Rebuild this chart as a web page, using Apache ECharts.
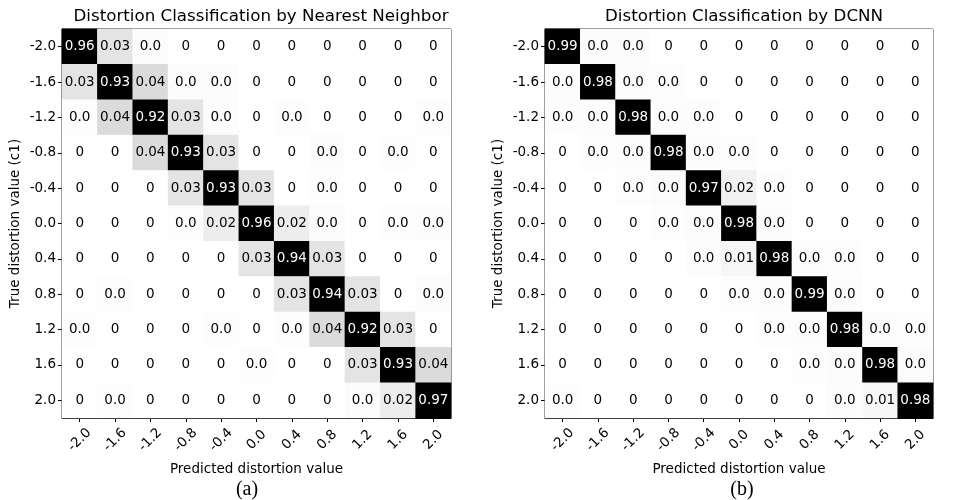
<!DOCTYPE html>
<html lang="en">
  <head>
    <meta charset="utf-8" />
    <title>Distortion Classification</title>
    <style>
      html, body { margin: 0; padding: 0; background: #fff; }
      #chart-container { width: 960px; height: 500px; }
    </style>
  </head>
  <body>
    <div id="chart-container"></div>
    <script src="https://cdn.jsdelivr.net/npm/echarts@6/dist/echarts.min.js"></script>
    <script>
      // tick labels (same for true and predicted axes)
      var distortion = ["-2.0", "-1.6", "-1.2", "-0.8", "-0.4", "0.0", "0.4", "0.8", "1.2", "1.6", "2.0"];

      // rows = true value, columns = predicted value
      // cells printed "0.0" are small non-zero values, estimated from their shade
      var nearestNeighbor = [
        [0.96, 0.03, 0.004, 0, 0, 0, 0, 0, 0, 0, 0],
        [0.03, 0.93, 0.04, 0.003, 0.003, 0, 0, 0, 0, 0, 0],
        [0.002, 0.04, 0.92, 0.03, 0.003, 0, 0.002, 0, 0, 0, 0.002],
        [0, 0, 0.04, 0.93, 0.03, 0, 0, 0.003, 0, 0.002, 0],
        [0, 0, 0, 0.03, 0.93, 0.03, 0, 0.002, 0, 0, 0],
        [0, 0, 0, 0.002, 0.02, 0.96, 0.02, 0.004, 0, 0.002, 0.003],
        [0, 0, 0, 0, 0, 0.03, 0.94, 0.03, 0, 0, 0],
        [0, 0.002, 0, 0, 0, 0, 0.03, 0.94, 0.03, 0, 0.003],
        [0.002, 0, 0, 0, 0.002, 0, 0.002, 0.04, 0.92, 0.03, 0],
        [0, 0, 0, 0, 0, 0.002, 0, 0, 0.03, 0.93, 0.04],
        [0, 0.002, 0, 0, 0, 0, 0, 0, 0.004, 0.02, 0.97]
      ];

      var dcnn = [
        [0.99, 0.003, 0.003, 0, 0, 0, 0, 0, 0, 0, 0],
        [0.003, 0.98, 0.003, 0.002, 0, 0, 0, 0, 0, 0, 0],
        [0.003, 0.003, 0.98, 0.003, 0.002, 0, 0, 0, 0, 0, 0],
        [0, 0.002, 0.003, 0.98, 0.003, 0.002, 0, 0, 0, 0, 0],
        [0, 0, 0.002, 0.004, 0.97, 0.015, 0.002, 0, 0, 0, 0],
        [0, 0, 0, 0.002, 0.004, 0.98, 0.003, 0, 0, 0, 0],
        [0, 0, 0, 0, 0.003, 0.01, 0.98, 0.003, 0.002, 0, 0],
        [0, 0, 0, 0, 0, 0.002, 0.003, 0.99, 0.003, 0, 0],
        [0, 0, 0, 0, 0, 0, 0.002, 0.003, 0.98, 0.004, 0.002],
        [0, 0, 0, 0, 0, 0, 0, 0.002, 0.004, 0.98, 0.004],
        [0.002, 0, 0, 0, 0, 0, 0, 0, 0.003, 0.01, 0.98]
      ];

      var font = "DejaVu Sans";

      function toCells(matrix) {
        var cells = [];
        for (var r = 0; r < matrix.length; r++) {
          for (var c = 0; c < matrix[r].length; c++) {
            var v = matrix[r][c];
            cells.push({
              value: [c, r, v],
              label: { color: v > 0.5 ? "#fff" : "#000" }
            });
          }
        }
        return cells;
      }

      function cellText(params) {
        var v = params.value[2];
        if (v === 0) return "0";
        var r = Math.round(v * 100) / 100;
        if (r === 0) return "0.0";
        return r.toFixed(2);
      }

      function xAxisFor(idx) {
        return {
          type: "category",
          gridIndex: idx,
          data: distortion,
          name: "Predicted distortion value",
          nameLocation: "middle",
          nameGap: 44,
          nameTextStyle: { fontFamily: font, fontSize: 13.5, color: "#000" },
          axisLine: { show: true, lineStyle: { color: "#000", width: 1 } },
          axisTick: { show: true, alignWithLabel: true, length: 4, lineStyle: { color: "#000" } },
          axisLabel: {
            rotate: 45,
            align: "center",
            verticalAlign: "middle",
            margin: 22,
            fontFamily: font,
            fontSize: 13.5,
            color: "#000"
          },
          splitLine: { show: false },
          splitArea: { show: false }
        };
      }

      function yAxisFor(idx) {
        return {
          type: "category",
          gridIndex: idx,
          data: distortion,
          inverse: true,
          name: "True distortion value (c1)",
          nameLocation: "middle",
          nameGap: 40,
          nameTextStyle: { fontFamily: font, fontSize: 13.5, color: "#000" },
          axisLine: { show: true, lineStyle: { color: "#000", width: 1 } },
          axisTick: { show: true, alignWithLabel: true, length: 4, lineStyle: { color: "#000" } },
          axisLabel: { margin: 6, fontFamily: font, fontSize: 13.5, color: "#000" },
          splitLine: { show: false },
          splitArea: { show: false }
        };
      }

      function seriesFor(idx, matrix) {
        return {
          type: "heatmap",
          xAxisIndex: idx,
          yAxisIndex: idx,
          data: toCells(matrix),
          label: {
            show: true,
            formatter: cellText,
            fontFamily: font,
            fontSize: 13.5
          },
          itemStyle: { borderWidth: 0 },
          emphasis: { disabled: true }
        };
      }

      var dom = document.getElementById("chart-container");
      var myChart = echarts.init(dom, null, { renderer: "canvas" });

      var option = {
        animation: false,
        backgroundColor: "#fff",
        title: [
          {
            text: "Distortion Classification by Nearest Neighbor",
            left: 256, top: 3, textAlign: "center",
            textStyle: { fontFamily: font, fontSize: 16.7, fontWeight: "normal", color: "#000" }
          },
          {
            text: "Distortion Classification by DCNN",
            left: 739, top: 3, textAlign: "center",
            textStyle: { fontFamily: font, fontSize: 16.7, fontWeight: "normal", color: "#000" }
          },
          {
            text: "(a)",
            left: 242, top: 475, textAlign: "center",
            textStyle: { fontFamily: "Liberation Serif", fontSize: 20, fontWeight: "normal", color: "#000" }
          },
          {
            text: "(b)",
            left: 737, top: 475, textAlign: "center",
            textStyle: { fontFamily: "Liberation Serif", fontSize: 20, fontWeight: "normal", color: "#000" }
          }
        ],
        grid: [
          { left: 62, top: 29, width: 389, height: 389, show: true, borderColor: "#000", borderWidth: 1, backgroundColor: "transparent" },
          { left: 545, top: 29, width: 388, height: 389, show: true, borderColor: "#000", borderWidth: 1, backgroundColor: "transparent" }
        ],
        xAxis: [xAxisFor(0), xAxisFor(1)],
        yAxis: [yAxisFor(0), yAxisFor(1)],
        visualMap: {
          show: false,
          type: "continuous",
          seriesIndex: [0, 1],
          dimension: 2,
          min: 0,
          max: 0.28,
          inRange: { color: ["#ffffff", "#000000"] }
        },
        series: [seriesFor(0, nearestNeighbor), seriesFor(1, dcnn)]
      };

      myChart.setOption(option);
      window.addEventListener("resize", myChart.resize);
    </script>
  </body>
</html>
